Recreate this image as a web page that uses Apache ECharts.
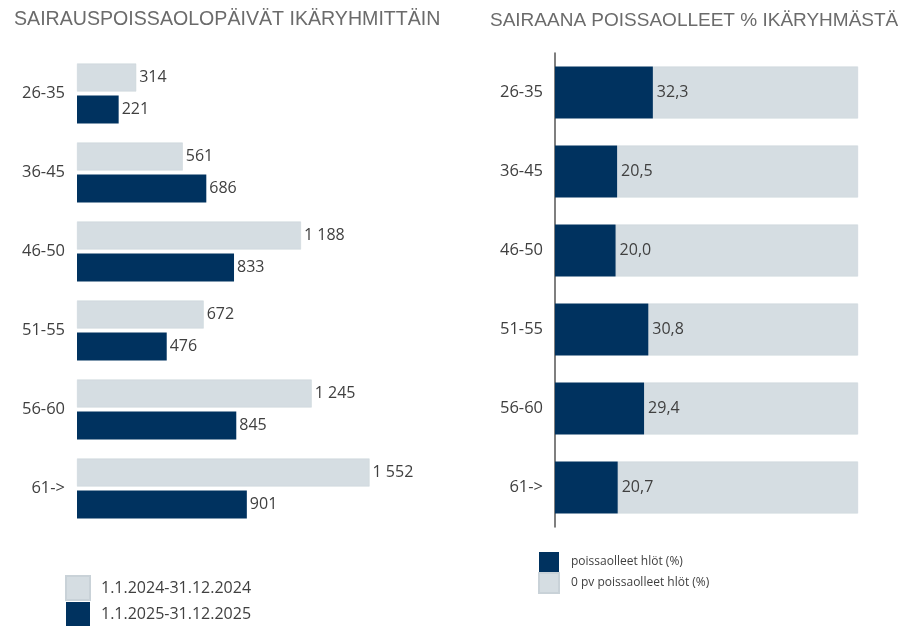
<!DOCTYPE html>
<html>
<head>
<meta charset="utf-8">
<script src="https://cdn.jsdelivr.net/npm/echarts@6/dist/echarts.min.js"></script>
<style>
  html, body { margin: 0; padding: 0; background: #fff; }
  #chart { width: 917px; height: 626px; }
</style>
</head>
<body>
<div id="chart"></div>
<script>
// ikäryhmät
var ageGroups = ['26-35', '36-45', '46-50', '51-55', '56-60', '61->'];
// sairauspoissaolopäivät
var days2024 = [314, 561, 1188, 672, 1245, 1552];
var days2025 = [221, 686, 833, 476, 845, 901];
// sairaana poissaolleet % ikäryhmästä
var absentPct = [32.3, 20.5, 20.0, 30.8, 29.4, 20.7];
var zeroDaysPct = [67.7, 79.5, 80.0, 69.2, 70.6, 79.3];

var dark = '#00325f';
var light = '#d5dde2';
var txt = '#404040';
var labelFont = 'Open Sans';

function fmtDays(v) {
  return String(v).replace(/\B(?=(\d{3})+(?!\d))/g, ' ');
}
function fmtPct(v) {
  return v.toFixed(1).replace('.', ',');
}

var chart = echarts.init(document.getElementById('chart'));
chart.setOption({
  animation: false,
  title: [
    { text: 'SAIRAUSPOISSAOLOPÄIVÄT IKÄRYHMITTÄIN', left: 9, top: 5,
      textStyle: { fontFamily: 'Liberation Sans', fontSize: 19.6, fontWeight: 'normal', color: '#6b6b6b' } },
    { text: 'SAIRAANA POISSAOLLEET % IKÄRYHMÄSTÄ', left: 485, top: 6,
      textStyle: { fontFamily: 'Liberation Sans', fontSize: 19, fontWeight: 'normal', color: '#6b6b6b' } }
  ],
  legend: [
    { orient: 'vertical', left: 65, top: 575, padding: 0, icon: 'rect',
      itemWidth: 24, itemHeight: 24, itemGap: 1,
      data: ['1.1.2024-31.12.2024', '1.1.2025-31.12.2025'],
      textStyle: { fontFamily: labelFont, fontSize: 16, color: txt, padding: [0, 0, 0, 6] } },
    { orient: 'vertical', left: 538, top: 552, padding: 0, icon: 'rect',
      itemWidth: 20, itemHeight: 20, itemGap: 0,
      data: ['poissaolleet hlöt (%)', '0 pv poissaolleet hlöt (%)'],
      textStyle: { fontFamily: labelFont, fontSize: 12, color: txt, padding: [0, 0, 0, 7] } }
  ],
  grid: [
    { left: 77, top: 54, width: 377, height: 474 },
    { left: 555, top: 53, width: 303, height: 474 }
  ],
  xAxis: [
    { gridIndex: 0, type: 'value', min: 0, max: 2000, show: false },
    { gridIndex: 1, type: 'value', min: 0, max: 100, show: false }
  ],
  yAxis: [
    { gridIndex: 0, type: 'category', data: ageGroups, inverse: true,
      axisLine: { show: false }, axisTick: { show: false },
      axisLabel: { margin: 12, fontFamily: labelFont, fontSize: 16.5, color: txt } },
    { gridIndex: 1, type: 'category', data: ageGroups, inverse: true,
      axisLine: { show: true, lineStyle: { color: '#555', width: 1.5 } }, axisTick: { show: false },
      axisLabel: { margin: 12, fontFamily: labelFont, fontSize: 16.5, color: txt } }
  ],
  series: [
    { name: '1.1.2024-31.12.2024', type: 'bar', xAxisIndex: 0, yAxisIndex: 0,
      data: days2024, barWidth: 28, barGap: '14%',
      itemStyle: { color: light, borderColor: '#c9d2d8', borderWidth: 0.5 },
      label: { show: true, position: 'right', distance: 3, formatter: function (p) { return fmtDays(p.value); },
        fontFamily: labelFont, fontSize: 16, color: txt } },
    { name: '1.1.2025-31.12.2025', type: 'bar', xAxisIndex: 0, yAxisIndex: 0,
      data: days2025, barWidth: 28, barGap: '14%',
      itemStyle: { color: dark },
      label: { show: true, position: 'right', distance: 3, formatter: function (p) { return fmtDays(p.value); },
        fontFamily: labelFont, fontSize: 16, color: txt } },
    { name: 'poissaolleet hlöt (%)', type: 'bar', xAxisIndex: 1, yAxisIndex: 1, stack: 'pct',
      data: absentPct, barWidth: 52,
      itemStyle: { color: dark },
      label: { show: true, position: 'right', distance: 4, formatter: function (p) { return fmtPct(p.value); },
        fontFamily: labelFont, fontSize: 16, color: txt } },
    { name: '0 pv poissaolleet hlöt (%)', type: 'bar', xAxisIndex: 1, yAxisIndex: 1, stack: 'pct',
      data: zeroDaysPct, barWidth: 52, z: 1,
      itemStyle: { color: light, borderColor: '#c9d2d8', borderWidth: 0.5 } }
  ]
});
</script>
</body>
</html>
